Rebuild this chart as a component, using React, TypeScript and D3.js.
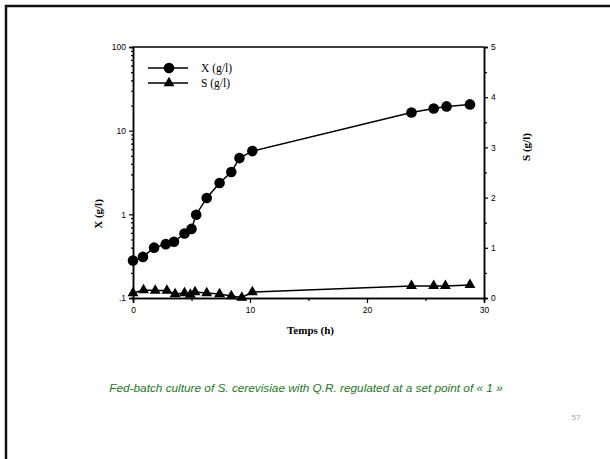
import React, { useRef, useEffect } from "react";
import * as d3 from "d3";

// biomass X (g/l) versus time (h)
const timeX = [0, 0.85, 1.8, 2.8, 3.5, 4.4, 5.0, 5.4, 6.3, 7.4, 8.4, 9.1, 10.2, 23.8, 25.7, 26.8, 28.8];
const valuesX = [0.28, 0.31, 0.4, 0.44, 0.47, 0.59, 0.67, 0.99, 1.57, 2.37, 3.2, 4.7, 5.7, 16.5, 18.4, 19.5, 20.6];

// substrate S (g/l) versus time (h)
const timeS = [0, 0.9, 1.9, 2.9, 3.6, 4.4, 4.9, 5.3, 6.3, 7.4, 8.4, 9.3, 10.2, 23.8, 25.7, 26.7, 28.8];
const valuesS = [0.1, 0.16, 0.15, 0.15, 0.08, 0.1, 0.07, 0.12, 0.1, 0.08, 0.04, 0.01, 0.12, 0.24, 0.24, 0.24, 0.26];

const xTicks = [0, 10, 20, 30];
const xMinorTicks = [5, 15, 25];
const leftTicks = [0.1, 1, 10, 100];
const leftTickLabels = [".1", "1", "10", "100"];
const rightTicks = [0, 1, 2, 3, 4, 5];
const rightMinorTicks = [0.5, 1.5, 2.5, 3.5, 4.5];

const legendItems = ["X (g/l)", "S (g/l)"];
const caption = "Fed-batch culture of S. cerevisiae with Q.R. regulated at a set point of « 1 »";
const pageNumber = "57";

const App = () => {
  const svgRef = useRef<SVGSVGElement>(null);

  useEffect(() => {
    const svg = d3.select(svgRef.current);
    svg.selectAll("*").remove();

    const left = 133, right = 484, top = 47, bottom = 298;

    const x = d3.scaleLinear().domain([0, 30]).range([left, right]);
    const yX = d3.scaleLog().domain([0.1, 100]).range([bottom, top]);
    const yS = d3.scaleLinear().domain([0, 5]).range([bottom, top]);

    // slide frame
    svg.append("path")
      .attr("d", "M6,459 L6,6 L610,6")
      .attr("fill", "none")
      .attr("stroke", "#111")
      .attr("stroke-width", 2.5);

    const tickFont = "Liberation Sans, Arial, sans-serif";

    // top border of plot
    svg.append("line")
      .attr("x1", left).attr("x2", right)
      .attr("y1", top).attr("y2", top)
      .attr("stroke", "#000").attr("stroke-width", 1.5);

    // bottom axis
    const gx = svg.append("g").attr("transform", `translate(0,${bottom})`);
    gx.call(d3.axisBottom(x).tickValues(xTicks).tickSize(5).tickPadding(4).tickFormat(d3.format("d")));
    gx.append("g").call(d3.axisBottom(x).tickValues(xMinorTicks).tickSize(3).tickFormat(() => ""));

    // left axis (log)
    const minor: number[] = [];
    [0.1, 1, 10].forEach((d) => {
      for (let k = 2; k <= 9; k++) minor.push(d * k);
    });
    const gl = svg.append("g").attr("transform", `translate(${left},0)`);
    gl.call(d3.axisLeft(yX).tickValues(leftTicks).tickSize(4).tickPadding(3)
      .tickFormat((d, i) => leftTickLabels[i]));
    gl.append("g").call(d3.axisLeft(yX).tickValues(minor).tickSize(2).tickFormat(() => ""));

    // right axis
    const gr = svg.append("g").attr("transform", `translate(${right},0)`);
    gr.call(d3.axisRight(yS).tickValues(rightTicks).tickSize(4).tickPadding(3).tickFormat(d3.format("d")));
    gr.append("g").call(d3.axisRight(yS).tickValues(rightMinorTicks).tickSize(3).tickFormat(() => ""));

    svg.selectAll(".domain").attr("stroke", "#000").attr("stroke-width", 1.5);
    svg.selectAll(".tick line").attr("stroke", "#000").attr("stroke-width", 1.2);
    svg.selectAll(".tick text")
      .attr("font-family", tickFont)
      .attr("font-size", 8.5)
      .attr("fill", "#000");

    // X series
    const lineX = d3.line<number>()
      .x((d, i) => x(timeX[i]))
      .y((d) => yX(d));
    svg.append("path")
      .datum(valuesX)
      .attr("d", lineX)
      .attr("fill", "none")
      .attr("stroke", "#000")
      .attr("stroke-width", 1.5);
    svg.selectAll("circle.x")
      .data(valuesX)
      .join("circle")
      .attr("class", "x")
      .attr("cx", (d, i) => x(timeX[i]))
      .attr("cy", (d) => yX(d))
      .attr("r", 5.3)
      .attr("fill", "#000");

    // S series
    const lineS = d3.line<number>()
      .x((d, i) => x(timeS[i]))
      .y((d) => yS(d));
    svg.append("path")
      .datum(valuesS)
      .attr("d", lineS)
      .attr("fill", "none")
      .attr("stroke", "#000")
      .attr("stroke-width", 1.5);
    const tri = d3.symbol().type(d3.symbolTriangle).size(52);
    svg.selectAll("path.s")
      .data(valuesS)
      .join("path")
      .attr("class", "s")
      .attr("d", tri)
      .attr("transform", (d, i) => `translate(${x(timeS[i])},${yS(d)})`)
      .attr("fill", "#000");

    // legend
    const serif = "Liberation Serif, Times New Roman, serif";
    legendItems.forEach((label, i) => {
      const ly = 68 + i * 15;
      svg.append("line")
        .attr("x1", 148).attr("x2", 188)
        .attr("y1", ly).attr("y2", ly)
        .attr("stroke", "#000").attr("stroke-width", 1.5);
      if (i === 0) {
        svg.append("circle").attr("cx", 169).attr("cy", ly).attr("r", 5.3).attr("fill", "#000");
      } else {
        svg.append("path").attr("d", tri).attr("transform", `translate(169,${ly})`).attr("fill", "#000");
      }
      svg.append("text")
        .attr("x", 201).attr("y", ly + 4)
        .attr("font-family", serif).attr("font-size", 11.5)
        .text(label);
    });

    // axis titles
    svg.append("text")
      .attr("x", (left + right) / 2 + 2).attr("y", 334)
      .attr("text-anchor", "middle")
      .attr("font-family", serif).attr("font-size", 11).attr("font-weight", "bold")
      .text("Temps (h)");
    svg.append("text")
      .attr("transform", "translate(102,214) rotate(-90)")
      .attr("text-anchor", "middle")
      .attr("font-family", serif).attr("font-size", 11).attr("font-weight", "bold")
      .text("X (g/l)");
    svg.append("text")
      .attr("transform", "translate(530,147) rotate(-90)")
      .attr("text-anchor", "middle")
      .attr("font-family", serif).attr("font-size", 11).attr("font-weight", "bold")
      .text("S (g/l)");

    // caption
    svg.append("text")
      .attr("x", 306).attr("y", 392)
      .attr("text-anchor", "middle")
      .attr("font-family", tickFont).attr("font-size", 11.8).attr("font-style", "italic")
      .attr("fill", "#217a21")
      .text(caption);

    svg.append("text")
      .attr("x", 576).attr("y", 420)
      .attr("text-anchor", "middle")
      .attr("font-family", "Open Sans, sans-serif").attr("font-size", 8)
      .attr("fill", "#999")
      .text(pageNumber);
  }, []);

  return (
    <svg
      ref={svgRef}
      width="610"
      height="459"
      style={{ position: "absolute", top: 0, left: 0, background: "#fff" }}
    />
  );
};

export default App;
